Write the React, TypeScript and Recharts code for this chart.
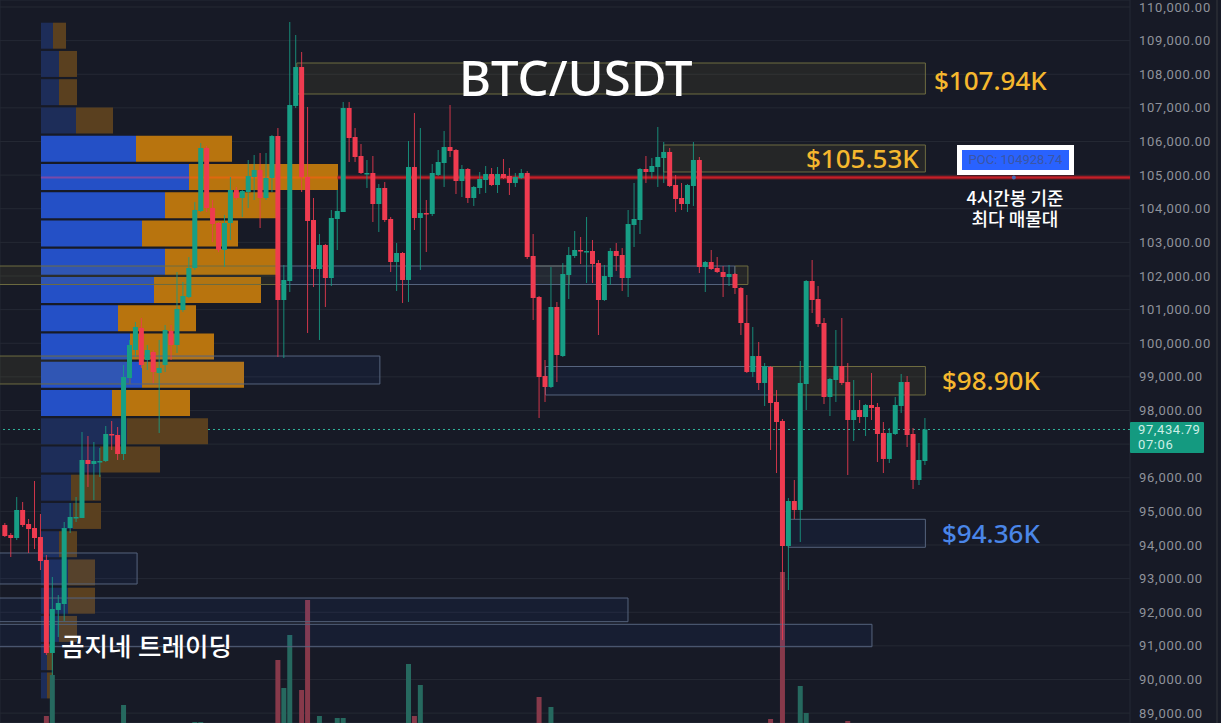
import React from 'react';
import { BarChart, Bar, Cell, ComposedChart, XAxis, YAxis, CartesianGrid, ReferenceArea, ReferenceDot, ReferenceLine } from 'recharts';

const W = 1221;
const H = 723;

// 4h candles
const opens = [
  94594, 94297, 94208, 95041, 94624, 94505, 94237, 93554, 90788, 92067,
  92245, 94505, 94803, 94803, 96528, 96409, 96468, 96498, 97301, 97271,
  96706, 98966, 99799, 100453, 99502, 99740, 99115, 99353, 100364, 99948,
  100989, 101375, 102238, 103933, 105806, 104022, 103576, 102773, 103576, 104557,
  104320, 104498, 104944, 105152, 104320, 104914, 106163, 101286, 101851, 107056,
  108215, 104944, 103665, 102208, 102922, 101940, 103695, 103903, 106996, 106134,
  105569, 105033, 105063, 104141, 104617, 103695, 102416, 102684, 101881, 105241,
  103725, 103873, 103844, 105004, 105360, 105836, 105747, 104825, 105182, 104320,
  104617, 104855, 105033, 104706, 105033, 104974, 104766, 104914, 105063, 102595,
  101375, 99026, 98699, 101078, 99620, 102029, 102595, 102773, 102714, 102743,
  102386, 101286, 101970, 102743, 102624, 101940, 103517, 103665, 105182, 105093,
  105241, 105509, 105688, 104706, 104320, 104141, 104676, 105450, 102267, 102416,
  102238, 102119, 101970, 102059, 101643, 100602, 99145, 99620, 98818, 99294,
  98253, 97688, 93970, 95308, 95041, 98788, 101851, 101316, 100602, 98401,
  98907, 99323, 98847, 97717, 98015, 97806, 98163, 98104, 97331, 96558,
  97301, 98134, 98847, 97301, 95933, 96498,
];
const highs = [
  94654, 94357, 95427, 95279, 94773, 95903, 94922, 93703, 93048, 92513,
  94684, 95249, 95427, 97360, 97241, 97063, 96885, 97539, 97688, 97509,
  99353, 100097, 100632, 100751, 99948, 99799, 100097, 100543, 100543, 102119,
  101821, 102565, 104201, 105955, 105866, 104260, 103606, 103814, 104944, 104647,
  104557, 105450, 105598, 105658, 105658, 106193, 106401, 102327, 109554, 109167,
  108662, 107026, 104320, 103249, 102952, 103963, 104557, 107174, 107174, 106401,
  105925, 105450, 105569, 104736, 104795, 103755, 102981, 102714, 106015, 106847,
  106401, 104260, 105331, 105747, 106312, 107085, 105777, 105301, 105212, 104676,
  105093, 105271, 105212, 105242, 105479, 105212, 105063, 105182, 105122, 103249,
  101405, 99502, 102267, 101227, 102386, 102862, 103338, 103160, 103755, 103070,
  102476, 102327, 102832, 102981, 102832, 103963, 104766, 105212, 105569, 105509,
  106431, 105985, 105806, 105004, 104766, 104736, 105985, 105539, 102446, 102773,
  102565, 102297, 102327, 102089, 101673, 101435, 100483, 100037, 99412, 99323,
  98609, 97747, 95397, 95933, 99472, 101881, 102476, 101702, 100751, 98966,
  100394, 100751, 99412, 98907, 98312, 98193, 99115, 98223, 97658, 97480,
  98401, 99085, 99026, 97480, 97033, 97777,
];
const lows = [
  94237, 93643, 94148, 94535, 93762, 93881, 93256, 90729, 90133, 91264,
  91739, 94357, 94684, 94803, 95725, 95338, 96022, 96468, 96825, 96528,
  96528, 98966, 99591, 99264, 99204, 98818, 97331, 99145, 99502, 99710,
  100929, 101345, 102178, 103903, 103903, 103011, 102714, 102267, 103070, 104260,
  103755, 104022, 104260, 103427, 104260, 104498, 99591, 99561, 101524, 106996,
  104498, 100305, 101673, 100097, 101078, 101702, 102773, 103903, 105390, 105390,
  105033, 104617, 103606, 103308, 103606, 102119, 101554, 101197, 101227, 103368,
  102178, 102714, 103784, 104974, 104647, 105539, 104438, 104349, 104171, 104082,
  104438, 104468, 104676, 104468, 104885, 104409, 104647, 104885, 102505, 100691,
  97777, 98253, 98669, 98847, 99591, 101316, 102535, 102357, 101792, 101792,
  100245, 101256, 101732, 102149, 101554, 101375, 102862, 103249, 104766, 104914,
  104647, 104766, 104647, 103903, 103963, 103903, 104082, 102089, 101524, 102178,
  102089, 101375, 101702, 101465, 100245, 99115, 98996, 98609, 98134, 96825,
  96141, 91174, 92661, 94773, 94089, 98015, 100899, 100483, 98193, 97836,
  98253, 98758, 96082, 97092, 97628, 97241, 97717, 96468, 96141, 96438,
  97271, 97926, 96914, 95665, 95784, 96379,
];
const closes = [
  94267, 94208, 95041, 94594, 94475, 94208, 93524, 90788, 92096, 92275,
  94505, 94833, 94833, 96528, 96409, 96498, 96498, 97301, 97271, 96706,
  98996, 99948, 100483, 99353, 99799, 99145, 99264, 100394, 99948, 101018,
  101405, 102238, 103963, 105806, 104022, 103546, 102773, 103576, 104557, 104320,
  104528, 104974, 105152, 104320, 104914, 106163, 101286, 101881, 107085, 108215,
  104944, 103636, 102208, 102922, 101940, 103725, 103933, 106996, 106104, 105539,
  105063, 105063, 104141, 104617, 103665, 102416, 102684, 101881, 105241, 103725,
  103873, 103844, 105063, 105390, 105836, 105717, 104825, 105182, 104320, 104647,
  104885, 105033, 104706, 105033, 104914, 104766, 104944, 105063, 102565, 101345,
  98996, 98699, 101078, 99650, 102059, 102624, 102773, 102743, 102743, 102357,
  101286, 102000, 102743, 102595, 101940, 103546, 103695, 105182, 105093, 105271,
  105539, 105688, 104676, 104290, 104141, 104706, 105450, 102267, 102416, 102208,
  102119, 101970, 102059, 101643, 100602, 99145, 99620, 98818, 99323, 98223,
  97658, 93970, 95308, 95041, 98818, 101851, 101286, 100572, 98401, 98937,
  99323, 98818, 97717, 98015, 97806, 98163, 98074, 97301, 96558, 97331,
  98163, 98847, 97271, 95933, 96528, 97435,
];

// volume only shows where it pokes above the bottom of the crop
const volumeByCandle: Record<number, number> = {
  7: 7, 8: 48, 20: 18, 32: 1, 33: 1, 46: 63, 47: 35, 48: 88, 50: 33, 51: 123, 53: 7, 56: 5, 57: 5,
  68: 59, 69: 7, 70: 38, 90: 26, 92: 16, 129: 4, 131: 151, 134: 37, 135: 10, 142: 2,
};

// volume profile rows, top to bottom
const profileBuy = [12, 18, 18, 35, 95, 148, 124, 101, 124, 113, 77, 89, 101, 71, 86, 59, 30, 32, 18, 27, 27, 18, 6, 6];
const profileSell = [13, 18, 18, 37, 96, 149, 112, 96, 112, 107, 78, 84, 102, 78, 81, 60, 30, 28, 18, 27, 27, 18, 6, 6];

const priceTicks = [
  89000, 90000, 91000, 92000, 93000, 94000, 95000, 96000, 97000, 98000, 99000,
  100000, 101000, 102000, 103000, 104000, 105000, 106000, 107000, 108000, 109000, 110000,
];
const timeTicks = [3, 21, 45, 63.3, 87, 102, 117, 135, 153, 171];

const POC = 104928.74;
const LAST = 97434.79;

const yellowZones = [
  { from: 49.1, to: 155, low: 107412, high: 108334 },
  { from: 110.9, to: 155, low: 105093, high: 105896 },
  { from: -2, to: 45.9, low: 101747, high: 102297 },
  { from: 88.9, to: 95, low: 101747, high: 102297 },
  { from: 122.9, to: 125.1, low: 101747, high: 102297 },
  { from: -2, to: 21, low: 98788, high: 99620 },
  { from: 129, to: 155, low: 98461, high: 99308 },
];
const blueZones = [
  { from: 45.9, to: 122.9, low: 101747, high: 102297 },
  { from: 21, to: 63.1, low: 98788, high: 99620 },
  { from: 91, to: 129, low: 98461, high: 99308 },
  { from: 131.9, to: 155, low: 93932, high: 94764 },
  { from: -2, to: 22.2, low: 92840, high: 93762 },
  { from: -2, to: 104.9, low: 91719, high: 92423 },
  { from: -2, to: 146, low: 90975, high: 91641 },
];

const candles = opens.map((open, i) => ({
  i,
  open,
  close: closes[i],
  range: [lows[i], highs[i]],
  high: highs[i],
  low: lows[i],
  volume: volumeByCandle[i] ?? 0,
}));
const profileRows = profileBuy.map((buy, row) => ({ row, buy, sell: profileSell[row] }));

const UP = '#179e85';
const DOWN = '#ef3b50';
const BG = '#171a26';
const xDomain: [number, number] = [-0.893, 189.47];
const yDomain: [number, number] = [88706, 110208];
const sans = '"Noto Sans", "Noto Sans CJK KR", sans-serif';

const Candle = (props: any) => {
  const { x, y, width, height, payload } = props;
  const { open, close, high, low } = payload;
  const span = high - low || 1;
  const at = (price: number) => y + ((high - price) / span) * height;
  const color = close >= open ? UP : DOWN;
  const top = at(Math.max(open, close));
  const bottom = at(Math.min(open, close));
  return (
    <g>
      <rect x={x + width / 2 - 0.5} y={y} width={1} height={height} fill={color} opacity={0.85} />
      <rect x={x} y={top} width={width} height={Math.max(bottom - top, 1.5)} fill={color} />
    </g>
  );
};

const Layer = ({ children }: { children: React.ReactNode }) => (
  <div style={{ position: 'absolute', left: 0, top: 0, width: W, height: H }}>{children}</div>
);

const Tag = ({ left, top, color, size, children }: any) => (
  <div style={{ position: 'absolute', left, top, color, fontSize: size, fontWeight: 500, lineHeight: 1, whiteSpace: 'nowrap', fontFamily: sans }}>
    {children}
  </div>
);

export default function App() {
  return (
    <div style={{ position: 'absolute', left: 0, top: 0, width: W, height: H, background: BG, overflow: 'hidden' }}>
      {/* grid and price axis */}
      <Layer>
        <ComposedChart width={W} height={H} data={candles} margin={{ top: 0, right: 0, bottom: 0, left: 0 }}>
          <CartesianGrid stroke="#252934" strokeWidth={1} />
          <XAxis type="number" dataKey="i" domain={xDomain} allowDataOverflow ticks={timeTicks} tick={false} axisLine={false} tickLine={false} height={0} />
          <YAxis
            orientation="right"
            width={91}
            domain={yDomain}
            allowDataOverflow
            ticks={priceTicks}
            interval={0}
            axisLine={false}
            tickLine={false}
            tickMargin={3}
            tick={{ fill: '#8f929b', fontSize: 13, fontFamily: 'Roboto', letterSpacing: 0.75 }}
            tickFormatter={(v: number) => (v === 97000 ? '' : v.toLocaleString('en-US', { minimumFractionDigits: 2 }))}
          />
          <ReferenceLine y={LAST} stroke="#2fb39a" strokeWidth={1} strokeDasharray="2 3" />
        </ComposedChart>
      </Layer>

      {/* volume profile */}
      <Layer>
        <BarChart width={W} height={H} layout="vertical" data={profileRows} barCategoryGap={2} margin={{ top: 21.7, right: 180, bottom: 23.3, left: 41 }}>
          <XAxis type="number" domain={[0, 1000]} hide />
          <YAxis type="category" dataKey="row" hide />
          <Bar dataKey="buy" stackId="p" barSize={26} isAnimationActive={false}>
            {profileRows.map((r) => (
              <Cell key={r.row} fill={r.row >= 4 && r.row <= 13 ? '#2450c6' : '#1d2d59'} />
            ))}
          </Bar>
          <Bar dataKey="sell" stackId="p" barSize={26} isAnimationActive={false}>
            {profileRows.map((r) => (
              <Cell key={r.row} fill={r.row >= 4 && r.row <= 13 ? '#b8740e' : '#5a401f'} />
            ))}
          </Bar>
        </BarChart>
      </Layer>

      {/* POC line and volume */}
      <Layer>
        <ComposedChart width={W} height={H} data={candles} margin={{ top: 0, right: 91, bottom: 0, left: 0 }}>
          <XAxis type="number" dataKey="i" domain={xDomain} allowDataOverflow hide />
          <YAxis yAxisId="price" domain={yDomain} allowDataOverflow hide />
          <YAxis yAxisId="vol" domain={[0, H]} allowDataOverflow hide />
          <Bar yAxisId="vol" dataKey="volume" barSize={5} isAnimationActive={false}>
            {candles.map((c) => (
              <Cell key={c.i} fill={c.close >= c.open ? '#26695f' : '#87394a'} />
            ))}
          </Bar>
          <ReferenceLine yAxisId="price" segment={[{ x: 6, y: POC }, { x: 31, y: POC }]} stroke="#7b4aa8" strokeWidth={2} />
          <ReferenceLine yAxisId="price" segment={[{ x: 31, y: POC }, { x: 56, y: POC }]} stroke="#e0680f" strokeWidth={2} />
          <ReferenceLine yAxisId="price" segment={[{ x: 56, y: POC }, { x: 189.47, y: POC }]} stroke="#6e1a22" strokeWidth={4} />
          <ReferenceLine yAxisId="price" segment={[{ x: 56, y: POC }, { x: 189.47, y: POC }]} stroke="#c41f28" strokeWidth={2} />
          <ReferenceDot yAxisId="price" x={169.9} y={POC} r={2} fill="#4a6ab5" stroke="none" />
        </ComposedChart>
      </Layer>

      {/* candles and zones */}
      <Layer>
        <ComposedChart width={W} height={H} data={candles} margin={{ top: 0, right: 91, bottom: 0, left: 0 }}>
          <XAxis type="number" dataKey="i" domain={xDomain} allowDataOverflow hide />
          <YAxis domain={yDomain} allowDataOverflow hide />
          <Bar dataKey="range" barSize={5} shape={Candle} isAnimationActive={false} />
          {yellowZones.map((z, k) => (
            <ReferenceArea key={`y${k}`} x1={z.from} x2={z.to} y1={z.low} y2={z.high} ifOverflow="hidden" fill="#8a8230" fillOpacity={0.12} stroke="#6e6c40" strokeWidth={1} />
          ))}
          {blueZones.map((z, k) => (
            <ReferenceArea key={`b${k}`} x1={z.from} x2={z.to} y1={z.low} y2={z.high} ifOverflow="hidden" fill="#2962ff" fillOpacity={0.06} stroke="#56647e" strokeWidth={1} />
          ))}
        </ComposedChart>
      </Layer>

      {/* annotations */}
      <Tag left={459} top={53} color="#ffffff" size={49}>BTC/USDT</Tag>
      <Tag left={934} top={67} color="#f5b82e" size={26}>$107.94K</Tag>
      <Tag left={806} top={145} color="#f5b82e" size={26}>$105.53K</Tag>
      <Tag left={942} top={367} color="#f5b82e" size={26}>$98.90K</Tag>
      <Tag left={942} top={520} color="#4a86e8" size={26}>$94.36K</Tag>
      <Tag left={61} top={634} color="#ffffff" size={25.5}>곰지네 트레이딩</Tag>

      <div style={{ position: 'absolute', left: 957, top: 145, width: 117, height: 30, background: '#fff', boxSizing: 'border-box', padding: 5 }}>
        <div style={{ background: '#2962ff', height: 20, lineHeight: '20px', color: '#3b56a5', fontSize: 13, fontFamily: 'Roboto', textAlign: 'center', whiteSpace: 'nowrap' }}>
          POC: 104928.74
        </div>
      </div>
      <div style={{ position: 'absolute', left: 915, top: 187, width: 200, textAlign: 'center', color: '#fff', fontSize: 18, fontWeight: 500, lineHeight: '21px', fontFamily: '"Noto Sans CJK KR", sans-serif' }}>
        4시간봉 기준
        <br />
        최다 매물대
      </div>

      <div style={{ position: 'absolute', left: 1130, top: 422, width: 74, height: 31, boxSizing: 'border-box', paddingLeft: 8, paddingTop: 1, background: '#149a80', color: '#cdeee6', fontSize: 13, lineHeight: '14.5px', fontFamily: 'Roboto', letterSpacing: 0.6, borderRadius: 1 }}>
        97,434.79
        <br />
        07:06
      </div>
      <div style={{ position: 'absolute', left: 1216, top: 0, width: 2, height: H, background: '#252831' }} />
    </div>
  );
}
